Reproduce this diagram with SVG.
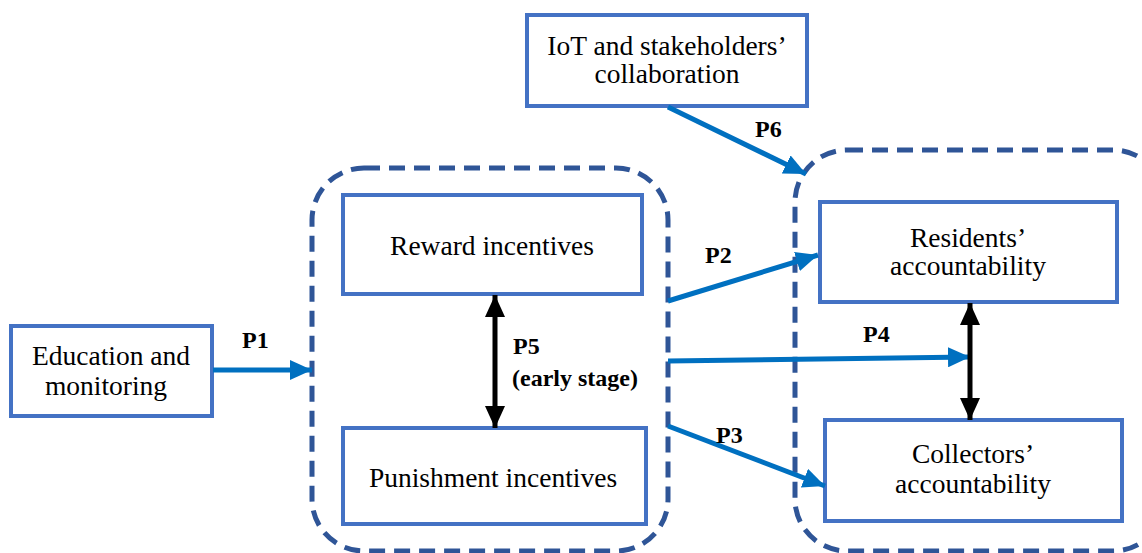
<svg xmlns="http://www.w3.org/2000/svg" width="1142" height="553" viewBox="0 0 1142 553">
<style>
.box{fill:#fff;stroke:#4472C4;stroke-width:4}
.grp{fill:none;stroke:#2F5597;stroke-width:5;stroke-dasharray:16 9}
.t{font-family:"Liberation Serif",serif;font-size:27.5px;fill:#000;text-anchor:middle}
.lb{font-family:"Liberation Serif",serif;font-size:24px;font-weight:bold;fill:#000}
.blue{stroke:#0070C0;stroke-width:5;fill:none}
.blk{stroke:#000;stroke-width:5;fill:none}
</style>
<defs>
<marker id="ab" markerUnits="userSpaceOnUse" markerWidth="22" markerHeight="20" refX="22" refY="10" orient="auto"><path d="M0,0 L22,10 L0,20 z" fill="#0070C0"/></marker>
<marker id="ak" markerUnits="userSpaceOnUse" markerWidth="22" markerHeight="20" refX="22" refY="10" orient="auto"><path d="M0,0 L22,10 L0,20 z" fill="#000"/></marker>
<marker id="aks" markerUnits="userSpaceOnUse" markerWidth="22" markerHeight="20" refX="0" refY="10" orient="auto"><path d="M22,0 L0,10 L22,20 z" fill="#000"/></marker>
</defs>
<g id="group-incentives"><rect class="grp" x="312" y="168" width="356" height="383" rx="52"/></g>
<g id="group-accountability"><rect class="grp" x="795" y="150" width="370" height="401" rx="52"/></g>
<g id="education"><rect class="box" x="11" y="326" width="201" height="90"/>
<text class="t" x="111" y="365">Education and</text><text class="t" x="106" y="395">monitoring</text></g>
<g id="iot"><rect class="box" x="527" y="15" width="280" height="91"/>
<text class="t" x="667" y="55">IoT and stakeholders’</text><text class="t" x="667" y="83">collaboration</text></g>
<g id="reward"><rect class="box" x="343" y="195" width="299" height="99"/>
<text class="t" x="492" y="255">Reward incentives</text></g>
<g id="punishment"><rect class="box" x="343" y="428" width="303" height="96"/>
<text class="t" x="493" y="487">Punishment incentives</text></g>
<g id="residents"><rect class="box" x="820" y="202" width="297" height="100"/>
<text class="t" x="968" y="247">Residents’</text><text class="t" x="968" y="275">accountability</text></g>
<g id="collectors"><rect class="box" x="825" y="420" width="297" height="101"/>
<text class="t" x="973" y="463">Collectors’</text><text class="t" x="973" y="493">accountability</text></g>
<g id="connectors">
<line class="blue" x1="213" y1="370" x2="312" y2="370" marker-end="url(#ab)"/>
<line class="blue" x1="668" y1="301" x2="818" y2="255" marker-end="url(#ab)"/>
<line class="blue" x1="668" y1="426" x2="825" y2="486" marker-end="url(#ab)"/>
<line class="blue" x1="668" y1="361" x2="970" y2="357" marker-end="url(#ab)"/>
<line class="blue" x1="668" y1="107" x2="806" y2="174" marker-end="url(#ab)"/>
<line class="blk" x1="495" y1="295" x2="495" y2="428" marker-start="url(#aks)" marker-end="url(#ak)"/>
<line class="blk" x1="970" y1="303" x2="970" y2="420" marker-start="url(#aks)" marker-end="url(#ak)"/>
<text class="lb" x="242" y="348">P1</text>
<text class="lb" x="705" y="263">P2</text>
<text class="lb" x="716" y="443">P3</text>
<text class="lb" x="863" y="342">P4</text>
<text class="lb" x="513" y="354">P5</text>
<text class="lb" x="512" y="386">(early stage)</text>
<text class="lb" x="755" y="137">P6</text>
</g>
</svg>
